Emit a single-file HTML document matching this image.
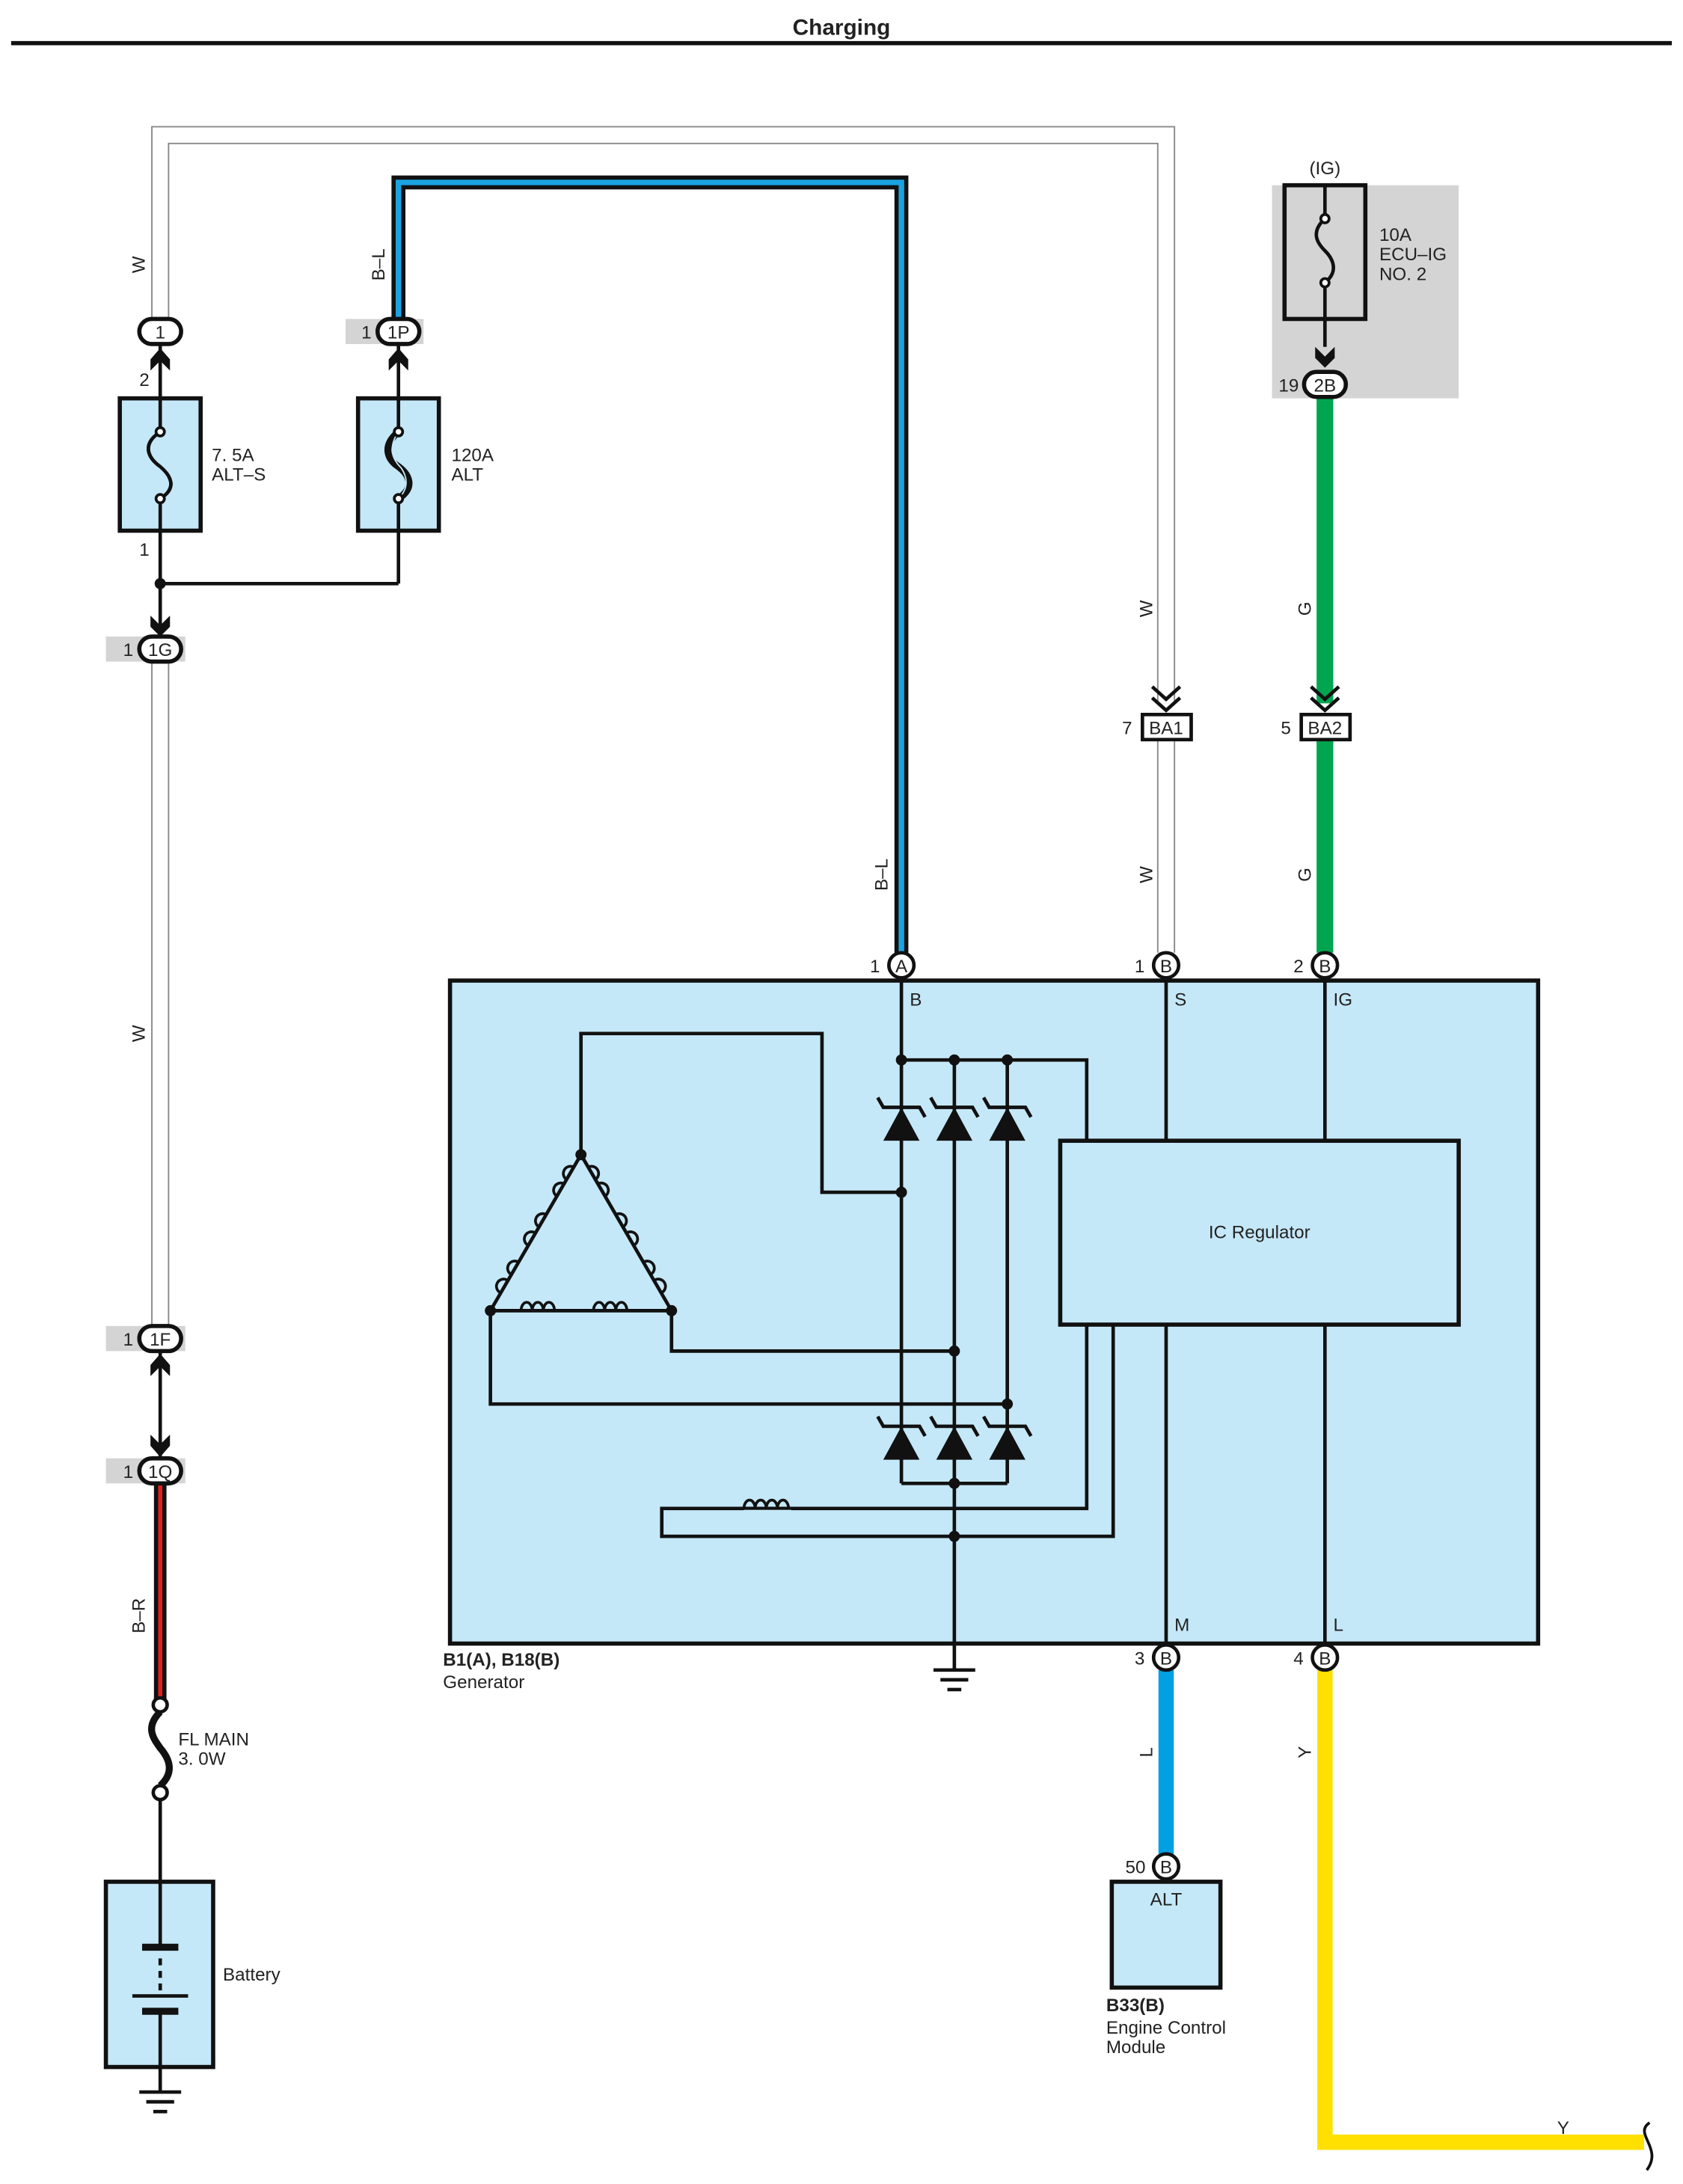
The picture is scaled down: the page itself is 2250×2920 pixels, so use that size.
<!DOCTYPE html>
<html><head><meta charset="utf-8"><style>
html,body{margin:0;padding:0;background:#fff}
svg{display:block}
text{font-family:"Liberation Sans",Arial,sans-serif;font-size:13px;fill:#222}
</style></head><body>
<svg width="2250" height="2920" viewBox="0 0 1208 1568" preserveAspectRatio="none" xmlns="http://www.w3.org/2000/svg">
<defs>
<marker id="x" markerWidth="1" markerHeight="1"/>
</defs>
<!-- title -->
<text x="604" y="25" text-anchor="middle" style="font-size:16px;font-weight:bold">Charging</text>
<line x1="8" y1="31" x2="1200" y2="31" stroke="#111" stroke-width="3"/>

<!-- gray backgrounds -->
<rect x="913" y="133" width="134" height="153" fill="#d4d4d4"/>
<rect x="248" y="229" width="56" height="18" fill="#d4d4d4"/>
<rect x="76" y="457" width="57" height="18" fill="#d4d4d4"/>
<rect x="76" y="952" width="57" height="18" fill="#d4d4d4"/>
<rect x="76" y="1047" width="57" height="18" fill="#d4d4d4"/>

<!-- W wire (double line) top loop -->
<path d="M115 229 V97 H837 V505" fill="none" stroke="#888" stroke-width="13"/>
<path d="M115 229 V97 H837 V505" fill="none" stroke="#fff" stroke-width="11"/>
<path d="M837 531 V684" fill="none" stroke="#888" stroke-width="13"/>
<path d="M837 531 V684" fill="none" stroke="#fff" stroke-width="11"/>
<path d="M115 475 V952" fill="none" stroke="#888" stroke-width="13"/>
<path d="M115 475 V952" fill="none" stroke="#fff" stroke-width="11"/>

<!-- B-L wire -->
<path d="M286 229 V131 H647 V684" fill="none" stroke="#111" stroke-width="10"/>
<path d="M286 229 V131 H647 V684" fill="none" stroke="#1aa3e0" stroke-width="4"/>

<!-- B-R wire -->
<line x1="115" y1="1065" x2="115" y2="1222" stroke="#111" stroke-width="9"/>
<line x1="115" y1="1065" x2="115" y2="1222" stroke="#e02020" stroke-width="3"/>

<!-- green wire -->
<line x1="951" y1="286" x2="951" y2="505" stroke="#00a550" stroke-width="12"/>
<line x1="951" y1="531" x2="951" y2="684" stroke="#00a550" stroke-width="12"/>

<!-- blue L wire -->
<line x1="837" y1="1199" x2="837" y2="1331" stroke="#00a0e3" stroke-width="11"/>
<!-- yellow wire -->
<path d="M951 1199 V1538 H1180" fill="none" stroke="#ffe000" stroke-width="11"/>
<path d="M1184 1524 C1172 1532,1194 1542,1182 1558" fill="none" stroke="#111" stroke-width="2"/>

<!-- wire labels -->
<g style="font-size:12px">
<text transform="translate(104,190) rotate(-90)" text-anchor="middle">W</text>
<text transform="translate(276,190) rotate(-90)" text-anchor="middle">B–L</text>
<text transform="translate(104,742) rotate(-90)" text-anchor="middle">W</text>
<text transform="translate(637,628) rotate(-90)" text-anchor="middle">B–L</text>
<text transform="translate(827,437) rotate(-90)" text-anchor="middle">W</text>
<text transform="translate(827,628) rotate(-90)" text-anchor="middle">W</text>
<text transform="translate(941,437) rotate(-90)" text-anchor="middle">G</text>
<text transform="translate(941,628) rotate(-90)" text-anchor="middle">G</text>
<text transform="translate(104,1160) rotate(-90)" text-anchor="middle">B–R</text>
<text transform="translate(827,1258) rotate(-90)" text-anchor="middle">L</text>
<text transform="translate(941,1258) rotate(-90)" text-anchor="middle">Y</text>
<text x="1122" y="1532" text-anchor="middle">Y</text>
</g>

<!-- left fuses -->
<line x1="115" y1="247" x2="115" y2="466" stroke="#111" stroke-width="2.5"/>
<line x1="286" y1="247" x2="286" y2="419" stroke="#111" stroke-width="2.5"/>
<line x1="115" y1="419" x2="286" y2="419" stroke="#111" stroke-width="2.5"/>
<circle cx="115" cy="419" r="4" fill="#111"/>
<rect x="86" y="286" width="58" height="95" fill="#c5e8f8" stroke="#111" stroke-width="3"/>
<rect x="257" y="286" width="58" height="95" fill="#c5e8f8" stroke="#111" stroke-width="3"/>
<line x1="115" y1="286" x2="115" y2="381" stroke="#111" stroke-width="2.5"/>
<line x1="286" y1="286" x2="286" y2="381" stroke="#111" stroke-width="2.5"/>
<path d="M115 310 C100 320,108 330,115 335 C122 341,128 350,115 358" fill="#c5e8f8" stroke="#111" stroke-width="2.5"/>
<rect x="110" y="311" width="10" height="46" fill="#c5e8f8"/>
<path d="M115 310 C100 320,108 330,115 335 C122 341,128 350,115 358" fill="none" stroke="#111" stroke-width="2.5"/>
<rect x="280" y="311" width="12" height="46" fill="#c5e8f8"/>
<path d="M286 310 C274 320,278 330,286 335 C294 341,298 350,286 358" fill="none" stroke="#111" stroke-width="5"/>
<path d="M286 310 C278 322,282 330,288 336 C292 342,294 350,286 358" fill="none" stroke="#c5e8f8" stroke-width="1"/>
<circle cx="115" cy="310" r="3" fill="#fff" stroke="#111" stroke-width="2"/>
<circle cx="115" cy="358" r="3" fill="#fff" stroke="#111" stroke-width="2"/>
<circle cx="286" cy="310" r="3" fill="#fff" stroke="#111" stroke-width="2"/>
<circle cx="286" cy="358" r="3" fill="#fff" stroke="#111" stroke-width="2"/>
<text x="152" y="331">7. 5A</text><text x="152" y="345">ALT–S</text>
<text x="324" y="331">120A</text><text x="324" y="345">ALT</text>
<text x="100" y="277">2</text><text x="100" y="399">1</text>

<!-- chevrons up -->
<g fill="#111">
<path d="M108 258 L115 250 L122 258 L122 266 L115 259 L108 266Z"/>
<path d="M279 258 L286 250 L293 258 L293 266 L286 259 L279 266Z"/>
<path d="M108 442 L115 449 L122 442 L122 450 L115 457 L108 450Z"/>
<path d="M108 980 L115 972 L122 980 L122 988 L115 981 L108 988Z"/>
<path d="M108 1030 L115 1037 L122 1030 L122 1038 L115 1046 L108 1038Z"/>
<path d="M944 249 L951 256 L958 249 L958 257 L951 264 L944 257Z"/>
</g>
<line x1="115" y1="970" x2="115" y2="1047" stroke="#111" stroke-width="2.5"/>
<!-- down double chevrons BA -->
<g fill="none" stroke="#111" stroke-width="2.5">
<path d="M827 493 L837 502 L847 493 M827 501 L837 510 L847 501"/>
<path d="M941 493 L951 502 L961 493 M941 501 L951 510 L961 501"/>
</g>

<!-- oval connectors -->
<g stroke="#111" stroke-width="3" fill="#fff">
<rect x="100" y="229" width="30" height="18" rx="9"/>
<rect x="271" y="229" width="30" height="18" rx="9"/>
<rect x="100" y="457" width="30" height="18" rx="9"/>
<rect x="100" y="952" width="30" height="18" rx="9"/>
<rect x="100" y="1047" width="30" height="18" rx="9"/>
<rect x="936" y="267" width="30" height="18" rx="9"/>
</g>
<g style="font-size:13px" text-anchor="middle">
<text x="115" y="243">1</text><text x="286" y="243">1P</text><text x="263" y="243">1</text>
<text x="115" y="471">1G</text><text x="92" y="471">1</text>
<text x="115" y="966">1F</text><text x="92" y="966">1</text>
<text x="115" y="1061">1Q</text><text x="92" y="1061">1</text>
<text x="951" y="281">2B</text><text x="925" y="281">19</text>
</g>

<!-- IG fuse -->
<text x="951" y="125" text-anchor="middle">(IG)</text>
<rect x="922" y="133" width="58" height="96" fill="#d4d4d4" stroke="#111" stroke-width="3"/>
<line x1="951" y1="133" x2="951" y2="155" stroke="#111" stroke-width="2.5"/>
<line x1="951" y1="205" x2="951" y2="249" stroke="#111" stroke-width="2.5"/>
<path d="M951 157 C940 167,946 175,951 180 C957 186,961 195,951 203" fill="none" stroke="#111" stroke-width="2.5"/>
<circle cx="951" cy="157" r="3" fill="#fff" stroke="#111" stroke-width="2"/>
<circle cx="951" cy="203" r="3" fill="#fff" stroke="#111" stroke-width="2"/>
<text x="990" y="173">10A</text><text x="990" y="187">ECU–IG</text><text x="990" y="201">NO. 2</text>

<!-- BA connectors -->
<rect x="820" y="513" width="35" height="18" fill="#fff" stroke="#111" stroke-width="2.5"/>
<rect x="934" y="513" width="35" height="18" fill="#fff" stroke="#111" stroke-width="2.5"/>
<text x="837" y="527" text-anchor="middle">BA1</text><text x="951" y="527" text-anchor="middle">BA2</text>
<text x="809" y="527" text-anchor="middle">7</text><text x="923" y="527" text-anchor="middle">5</text>

<!-- Generator box -->
<rect x="323" y="704" width="781" height="476" fill="#c5e8f8" stroke="#111" stroke-width="3"/>
<g fill="none" stroke="#111" stroke-width="2.5">
<!-- verticals -->
<line x1="647" y1="704" x2="647" y2="1065"/>
<line x1="685" y1="761" x2="685" y2="1198"/>
<line x1="723" y1="761" x2="723" y2="1065"/>
<line x1="647" y1="1065" x2="723" y2="1065"/>
<path d="M647 761 H780 V1083 H475 V1103 H799 V951"/>
<line x1="837" y1="704" x2="837" y2="1180"/>
<line x1="951" y1="704" x2="951" y2="1180"/>
<!-- stator -->
<path d="M417 829 V742 H590 V856 H647"/>
<path d="M352 941 V1008 H723"/>
<path d="M482 941 V970 H685"/>
<!-- triangle sides -->
<path d="M417 829 L352 941 H482 Z"/>
</g>
<!-- coil bumps on stator (overlay) -->
<g fill="none" stroke="#111" stroke-width="2">
<path d="M412 838 a5 5 0 1 0 -5 9 M405 850 a5 5 0 1 0 -5 9 M392 872 a5 5 0 1 0 -5 9 M384 885 a5 5 0 1 0 -5 9 M372 906 a5 5 0 1 0 -5 9 M364 919 a5 5 0 1 0 -5 9"/>
<path d="M422 838 a5 5 0 1 1 5 9 M429 850 a5 5 0 1 1 5 9 M442 872 a5 5 0 1 1 5 9 M450 885 a5 5 0 1 1 5 9 M462 906 a5 5 0 1 1 5 9 M470 919 a5 5 0 1 1 5 9"/>
<path d="M374 941 a4 6 0 1 1 8 0 a4 6 0 1 1 8 0 a4 6 0 1 1 8 0 M426 941 a4 6 0 1 1 8 0 a4 6 0 1 1 8 0 a4 6 0 1 1 8 0"/>
<path d="M534 1083 a4 6 0 1 1 8 0 a4 6 0 1 1 8 0 a4 6 0 1 1 8 0 a4 6 0 1 1 8 0"/>
</g>
<rect x="534" y="1084" width="34" height="3" fill="#c5e8f8"/>
<!-- diodes -->
<g fill="#111">
<path d="M634 819 L660 819 L647 795Z"/><path d="M672 819 L698 819 L685 795Z"/><path d="M710 819 L736 819 L723 795Z"/>
<path d="M634 1048 L660 1048 L647 1024Z"/><path d="M672 1048 L698 1048 L685 1024Z"/><path d="M710 1048 L736 1048 L723 1024Z"/>
</g>
<g fill="none" stroke="#111" stroke-width="2.5">
<path d="M630 788 L634 795 H660 L664 802"/><path d="M668 788 L672 795 H698 L702 802"/><path d="M706 788 L710 795 H736 L740 802"/>
<path d="M630 1017 L634 1024 H660 L664 1031"/><path d="M668 1017 L672 1024 H698 L702 1031"/><path d="M706 1017 L710 1024 H736 L740 1031"/>
</g>
<g fill="#111">
<circle cx="647" cy="761" r="4"/><circle cx="685" cy="761" r="4"/><circle cx="723" cy="761" r="4"/>
<circle cx="647" cy="856" r="4"/><circle cx="685" cy="970" r="4"/><circle cx="723" cy="1008" r="4"/>
<circle cx="685" cy="1065" r="4"/><circle cx="685" cy="1103" r="4"/>
<circle cx="417" cy="829" r="4"/><circle cx="352" cy="941" r="4"/><circle cx="482" cy="941" r="4"/>
</g>
<!-- IC regulator -->
<rect x="761" y="819" width="286" height="132" fill="#c5e8f8" stroke="#111" stroke-width="3"/>
<text x="904" y="889" text-anchor="middle">IC Regulator</text>
<text x="653" y="722">B</text><text x="843" y="722">S</text><text x="957" y="722">IG</text>
<text x="843" y="1171">M</text><text x="957" y="1171">L</text>
<text x="318" y="1196" style="font-weight:bold">B1(A), B18(B)</text>
<text x="318" y="1212">Generator</text>

<!-- round connectors -->
<g fill="#fff" stroke="#111" stroke-width="2.5">
<circle cx="647" cy="693" r="9"/><circle cx="837" cy="693" r="9"/><circle cx="951" cy="693" r="9"/>
<circle cx="837" cy="1190" r="9"/><circle cx="951" cy="1190" r="9"/><circle cx="837" cy="1340" r="9"/>
</g>
<g text-anchor="middle" style="font-size:12px">
<text x="647" y="698">A</text><text x="837" y="698">B</text><text x="951" y="698">B</text>
<text x="837" y="1195">B</text><text x="951" y="1195">B</text><text x="837" y="1345">B</text>
<text x="628" y="698">1</text><text x="818" y="698">1</text><text x="932" y="698">2</text>
<text x="818" y="1195">3</text><text x="932" y="1195">4</text><text x="815" y="1345">50</text>
</g>

<!-- ground under generator -->
<g stroke="#111" stroke-width="2.5">
<line x1="670" y1="1199" x2="700" y2="1199"/><line x1="675" y1="1206" x2="695" y2="1206"/><line x1="680" y1="1213" x2="690" y2="1213"/>
</g>

<!-- ECM -->
<rect x="798" y="1351" width="78" height="76" fill="#c5e8f8" stroke="#111" stroke-width="3"/>
<text x="837" y="1368" text-anchor="middle">ALT</text>
<text x="794" y="1444" style="font-weight:bold">B33(B)</text>
<text x="794" y="1460">Engine Control</text>
<text x="794" y="1474">Module</text>

<!-- fusible link -->
<circle cx="115" cy="1224" r="5" fill="#fff" stroke="#111" stroke-width="2.5"/>
<path d="M115 1229 C104 1240,110 1248,115 1255 C121 1262,126 1272,115 1282" fill="none" stroke="#111" stroke-width="5"/>
<circle cx="115" cy="1287" r="5" fill="#fff" stroke="#111" stroke-width="2.5"/>
<text x="128" y="1253">FL MAIN</text><text x="128" y="1267">3. 0W</text>
<line x1="115" y1="1292" x2="115" y2="1351" stroke="#111" stroke-width="2.5"/>

<!-- battery -->
<rect x="76" y="1351" width="77" height="133" fill="#c5e8f8" stroke="#111" stroke-width="3"/>
<line x1="115" y1="1351" x2="115" y2="1398" stroke="#111" stroke-width="2.5"/>
<line x1="102" y1="1398" x2="128" y2="1398" stroke="#111" stroke-width="5"/>
<line x1="115" y1="1406" x2="115" y2="1430" stroke="#111" stroke-width="2.5" stroke-dasharray="5 4"/>
<line x1="95" y1="1433" x2="135" y2="1433" stroke="#111" stroke-width="2.5"/>
<line x1="102" y1="1444" x2="128" y2="1444" stroke="#111" stroke-width="5"/>
<line x1="115" y1="1444" x2="115" y2="1502" stroke="#111" stroke-width="2.5"/>
<text x="160" y="1422">Battery</text>
<g stroke="#111" stroke-width="2.5">
<line x1="100" y1="1502" x2="130" y2="1502"/><line x1="105" y1="1509" x2="125" y2="1509"/><line x1="110" y1="1516" x2="120" y2="1516"/>
</g>
</svg>
</body></html>
